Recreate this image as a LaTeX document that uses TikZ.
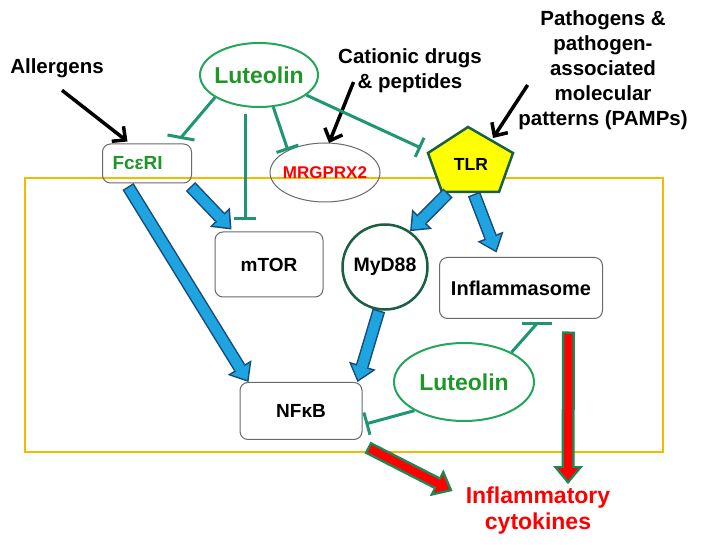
\documentclass[tikz,border=0pt]{standalone}
\usepackage{fontspec}
\setmainfont{Liberation Sans}
\usetikzlibrary{shapes.geometric,arrows.meta}
\definecolor{lutedge}{RGB}{35,165,90}
\definecolor{luttext}{RGB}{30,150,40}
\definecolor{inhcol}{RGB}{30,150,115}
\definecolor{orangeb}{RGB}{245,185,0}
\definecolor{bluef}{RGB}{30,165,225}
\definecolor{bluee}{RGB}{25,75,115}
\definecolor{rede}{RGB}{30,135,85}
\definecolor{dkgreen}{RGB}{25,95,65}
\definecolor{boxgray}{RGB}{105,105,105}
\definecolor{tlryellow}{RGB}{255,255,0}
\newcommand{\bluearr}[2]{%
  \draw[bluee, line width=13pt, -{Triangle[length=17pt,width=28pt,line width=0pt]}] #1 -- #2;
  \draw[bluef, line width=10pt, shorten <=1.5pt, shorten >=2.4pt, -{Triangle[length=13pt,width=21.5pt,line width=0pt]}] #1 -- #2;}
\newcommand{\redarr}[2]{%
  \draw[rede, line width=13pt, -{Triangle[length=18pt,width=30pt,line width=0pt]}] #1 -- #2;
  \draw[red, line width=8pt, shorten <=2.5pt, shorten >=3.9pt, -{Triangle[length=12pt,width=20pt,line width=0pt]}] #1 -- #2;}
\tikzset{
  fs/.style={font=\bfseries\fontsize{#1}{#1}\selectfont},
  lbl/.style={font=\bfseries\fontsize{20.5}{25}\selectfont, align=center, inner sep=0pt},
  luteo/.style={ellipse, draw=lutedge, line width=2pt, text=luttext, inner xsep=-15pt, inner ysep=0pt,
    font=\bfseries\fontsize{23}{26}\selectfont},
  rbox/.style={draw=boxgray, rounded corners=8pt, line width=1pt, fill=white,
    font=\bfseries\fontsize{20}{22}\selectfont},
  inhib/.style={draw=inhcol, line width=3pt},
  blackarr/.style={draw=black, line width=3.5pt, -{Straight Barb[length=10pt,width=19pt]}},
}
\begin{document}
\begin{tikzpicture}[x=1pt,y=-1pt]
\useasboundingbox (0,0) rectangle (702,545);
% cell frame
\draw[orangeb, line width=2.5pt] (25,178) rectangle (663,452);

% nodes
\node[luteo, minimum width=118pt, minimum height=64pt] (lut1) at (259,75) {Luteolin};
\node[lbl] (allerg) at (57,68) {Allergens};
\node[lbl] (cat) at (410,71) {Cationic drugs\\\& peptides};
\node[lbl] (path) at (603,70) {Pathogens \&\\pathogen-\\associated\\molecular\\patterns (PAMPs)};
\node[draw=boxgray, rounded corners=8pt, line width=1pt, minimum width=89pt, minimum height=39pt,
  text=luttext, fs=19, text width=69pt, align=left] (fc) at (147,163.5) {FcεRI};
\node[ellipse, draw=boxgray, line width=1pt, minimum width=110pt, minimum height=59pt,
  inner xsep=-12pt, inner ysep=0pt, text=red, fs=17] (mrg) at (325,172.5) {MRGPRX2};
\coordinate (t1) at (468,127);
\coordinate (t2) at (513,153);
\coordinate (t3) at (499,192);
\coordinate (t4) at (442,192);
\coordinate (t5) at (428,153);
\filldraw[fill=tlryellow, draw=dkgreen, line width=2.5pt, line join=miter] (t1)--(t2)--(t3)--(t4)--(t5)--cycle;
\node[fs=17.5] (tlr) at (471,164) {TLR};
\node[rbox, minimum width=108pt, minimum height=65pt, fs=19] (mtor) at (269,264.5) {mTOR};
\node[circle, draw=dkgreen, line width=2.5pt, fill=white, minimum size=85pt, inner sep=0pt, fs=19.5] (myd) at (385,267) {MyD88};
\node[rbox, minimum width=163pt, minimum height=61pt] (infl) at (521,288) {Inflammasome};
\node[rbox, minimum width=122pt, minimum height=57pt, fs=19] (nfkb) at (301,411) {NFκB};
\node[luteo, minimum width=140pt, minimum height=78pt] (lut2) at (464,382) {Luteolin};
\node[lbl, text=red, font=\bfseries\fontsize{23}{26}\selectfont] (cyto) at (538,511) {Inflammatory\\cytokines};

% black arrows
\draw[blackarr] ([xshift=5pt,yshift=-12.5pt]allerg.south) -- ([xshift=25.5pt,yshift=2pt]fc.north west);
\draw[blackarr] ([xshift=15.5pt,yshift=-11pt]cat.west) -- ([xshift=4pt,yshift=-0.5pt]mrg.north);
\draw[blackarr] ([xshift=9.5pt,yshift=-15pt]path.west) -- ([xshift=25pt,yshift=-11pt]t1);

% inhibitions
\coordinate (i1e) at ([xshift=34pt,yshift=6pt]fc.north);
\draw[inhib] (lut1.207) -- (i1e);
\draw[inhib] ([xshift=-13.5pt,yshift=2.5pt]i1e) -- ([xshift=13.5pt,yshift=-2.5pt]i1e);
\draw[inhib, -{Bar[width=22pt]}] ([xshift=-14pt,yshift=-6pt]lut1.south) -- ([xshift=-24pt,yshift=11pt]mtor.north);
\draw[inhib, -{Bar[width=23pt]}] (lut1.294) -- (mrg.149);
\draw[inhib, -{Bar[width=21pt]}] (lut1.337) -- ([xshift=-7pt,yshift=5pt]t5);
\coordinate (i5e) at ([xshift=16pt,yshift=-4.5pt]infl.south);
\draw[inhib] (lut2.32) -- (i5e);
\draw[inhib] ([xshift=-15pt]i5e) -- ([xshift=15pt]i5e);
\draw[inhib, -{Bar[width=23pt]}] (lut2.210) -- ([xshift=3pt,yshift=-13pt]nfkb.east);

% blue arrows
\bluearr{([xshift=-19pt,yshift=-3pt]fc.south)}{([xshift=9pt]nfkb.north west)}
\bluearr{([xshift=-1.5pt,yshift=-3pt]fc.south east)}{([xshift=17pt,yshift=2pt]mtor.north west)}
\bluearr{([xshift=6pt,yshift=-1pt]t4)}{(myd.55)}
\bluearr{([xshift=-25pt,yshift=-2pt]t3)}{([xshift=57.5pt,yshift=4.5pt]infl.north west)}
\bluearr{(myd.262)}{([xshift=-5pt]nfkb.north east)}

% red arrows
\redarr{([xshift=5pt,yshift=-7.5pt]nfkb.south east)}{([xshift=-13pt,yshift=20pt]cyto.west)}
\redarr{([xshift=-34.5pt,yshift=-12.5pt]infl.south east)}{([xshift=30pt,yshift=3pt]cyto.north)}
\end{tikzpicture}
\end{document}
